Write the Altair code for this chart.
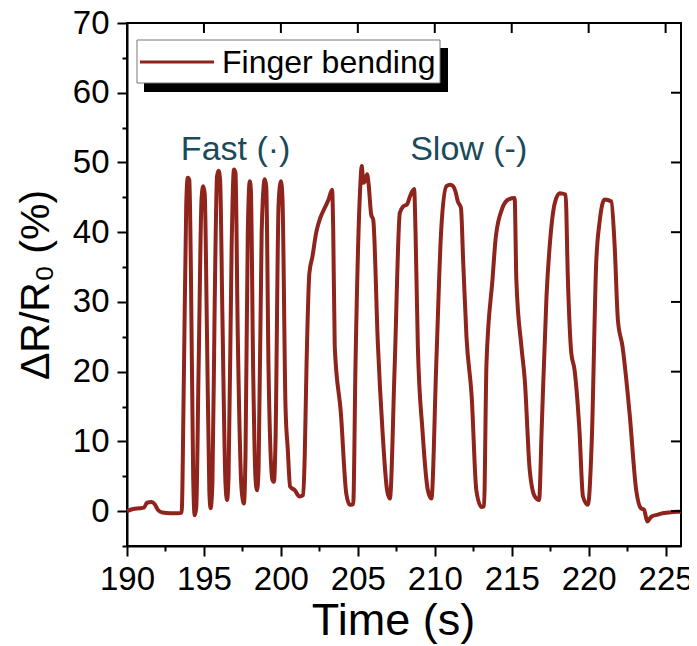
import altair as alt
import pandas as pd

# ---- data ----
time_s = [190.0, 190.4, 190.8, 191.1, 191.3, 191.6, 191.8, 192.0, 192.3, 192.8, 193.3, 193.55,
          193.7, 193.85, 193.95, 194.05, 194.15, 194.3, 194.4,
          194.5, 194.65, 194.85, 194.95, 195.05, 195.2, 195.35, 195.43,
          195.55, 195.7, 195.85, 195.95, 196.05, 196.2, 196.4, 196.5,
          196.6, 196.8, 196.95, 197.05, 197.2, 197.45, 197.6,
          197.7, 197.85, 197.98, 198.05, 198.2, 198.35, 198.45,
          198.55, 198.75, 198.95, 199.05, 199.2, 199.45, 199.55,
          199.65, 199.85, 200.0, 200.1, 200.3, 200.45, 200.6, 200.9, 201.2, 201.45,
          201.55, 201.67, 201.85, 202.05, 202.3, 202.55, 202.85, 203.1, 203.33,
          203.4, 203.5, 203.9, 204.25, 204.48, 204.7,
          204.85, 205.13, 205.26, 205.35, 205.5, 205.6, 205.7, 205.87, 206.0,
          206.3, 206.6, 206.9, 207.08,
          207.4, 207.73, 207.95, 208.2, 208.4, 208.66,
          208.75, 208.9, 209.2, 209.55, 209.78,
          210.1, 210.42, 210.76, 211.0, 211.19, 211.35, 211.5, 211.7,
          211.85, 212.06, 212.4, 212.7, 213.03, 213.2,
          213.36, 213.75, 213.97, 214.4, 214.8, 215.19,
          215.3, 215.63, 215.85, 216.17, 216.5, 216.78,
          216.95, 217.26, 217.5, 217.8, 218.12, 218.5,
          218.65, 218.87, 219.08, 219.4, 219.63, 219.95,
          220.2, 220.49, 220.7, 221.04, 221.47,
          221.69, 221.9, 222.2, 222.66, 223.09, 223.4, 223.6, 223.81,
          224.07, 224.5, 224.8, 225.2, 225.7, 226.0]
delta_r = [0.0, 0.3, 0.4, 0.5, 1.2, 1.3, 1.0, 0.2, -0.2, -0.3, -0.3, -0.2,
           20.0, 44.0, 47.8, 47.5, 35.0, 5.0, -0.6,
           0.5, 20.0, 45.0, 46.6, 45.5, 25.0, 3.0, 0.4,
           4.0, 30.0, 48.0, 48.8, 47.5, 28.0, 4.0, 1.6,
           5.0, 38.0, 49.0, 48.5, 25.0, 3.0, 1.1,
           8.0, 40.0, 47.3, 46.0, 20.0, 4.7, 3.0,
           6.0, 40.0, 47.6, 46.5, 20.0, 4.5, 4.2,
           10.0, 44.0, 47.3, 45.0, 15.0, 8.8, 3.5, 3.0, 2.1, 2.3,
           8.0, 21.3, 34.1, 36.5, 40.0, 42.0, 43.5, 44.7, 46.1,
           40.4, 23.6, 14.0, 2.5, 0.9, 1.0,
           21.2, 45.2, 49.5, 47.1, 47.5, 48.3, 46.9, 42.5, 41.8,
           24.1, 11.6, 3.0, 1.8,
           21.2, 42.8, 43.7, 44.0, 45.2, 46.2,
           40.0, 23.6, 11.6, 3.0, 1.8,
           21.3, 40.4, 46.6, 46.8, 46.6, 45.8, 44.4, 43.5,
           35.6, 25.0, 16.4, 3.0, 0.6, 0.7,
           21.2, 33.2, 39.4, 43.5, 44.7, 44.9,
           33.2, 23.6, 18.8, 5.9, 2.1, 1.6,
           12.0, 30.8, 38.9, 44.2, 45.6, 45.4,
           33.2, 22.7, 20.3, 11.6, 2.1, 0.9,
           10.0, 35.6, 41.3, 44.7, 44.4,
           38.0, 27.4, 23.6, 14.0, 3.0, 0.4, 0.2, -1.5,
           -0.8, -0.5, -0.3, -0.2, -0.1, -0.1]
series_name = "Finger bending"

note_text = ["Fast (·)", "Slow (-)"]
note_t = [193.5, 208.4]
note_v = [50.4, 50.4]

x_major = [190, 195, 200, 205, 210, 215, 220, 225]
x_all = [190 + 2.5 * i for i in range(15)]
y_major = [0, 10, 20, 30, 40, 50, 60, 70]
y_all = [-5 + 5 * i for i in range(16)]

LINE_COLOR = "#8E241B"
NOTE_COLOR = "#1A4B5A"
FONT = "Liberation Sans"

df = pd.DataFrame({"t": time_s, "v": delta_r})
notes = pd.DataFrame({"t": note_t, "v": note_v, "label": note_text})
top_ticks = pd.DataFrame({"t": x_major})
right_ticks = pd.DataFrame({"v": y_major})
one = pd.DataFrame({"k": [0]})
legend_df = pd.DataFrame({"label": [series_name]})

xscale = alt.Scale(domain=[190, 226], nice=False, zero=False)
yscale = alt.Scale(domain=[-5, 70], nice=False, zero=False)

main = alt.Chart(df).mark_line(strokeWidth=4, color=LINE_COLOR, interpolate="monotone").encode(
    x=alt.X("t:Q", scale=xscale, title="Time (s)",
            axis=alt.Axis(values=x_all, orient="bottom",
                          labelExpr="datum.value % 5 === 0 ? datum.label : ''",
                          tickSize={"condition": {"test": "datum.value % 5 === 0", "value": 10}, "value": 5},
                          labelFontSize=33, titleFontSize=45, labelFont=FONT, titleFont=FONT,
                          titleFontWeight="normal", labelPadding=7, titlePadding=2, titleX=266,
                          domainColor="black", domainWidth=2, tickColor="black", tickWidth=2,
                          labelColor="black", titleColor="black", grid=False,
                          labelFlush=False, labelOverlap=False)),
    y=alt.Y("v:Q", scale=yscale, title="ΔR/R₀ (%)",
            axis=alt.Axis(values=y_all, orient="left",
                          labelExpr="datum.value % 10 === 0 ? datum.label : ''",
                          tickSize={"condition": {"test": "datum.value % 10 === 0", "value": 10}, "value": 5},
                          labelFontSize=33, titleFontSize=41, labelFont=FONT, titleFont=FONT,
                          titleFontWeight="normal", labelPadding=8, titlePadding=15,
                          domainColor="black", domainWidth=2, tickColor="black", tickWidth=2,
                          labelColor="black", titleColor="black", grid=False,
                          labelFlush=False, labelOverlap=False)),
)

top = alt.Chart(top_ticks).mark_rule(color="black", strokeWidth=2).encode(
    x=alt.X("t:Q", scale=xscale, axis=None), y=alt.value(0), y2=alt.value(10)
)
right = alt.Chart(right_ticks).mark_rule(color="black", strokeWidth=2).encode(
    y=alt.Y("v:Q", scale=yscale, axis=None), x=alt.value(544), x2=alt.value(554)
)

text = alt.Chart(notes).mark_text(align="left", baseline="alphabetic", fontSize=34,
                                   font=FONT, color=NOTE_COLOR).encode(
    x=alt.X("t:Q", scale=xscale, axis=None), y=alt.Y("v:Q", scale=yscale, axis=None),
    text="label:N"
)

# legend box (drawn by hand to reproduce the drop shadow)
leg_shadow = alt.Chart(one).mark_rect(color="black", x=17, x2=321, y=25, y2=69).encode(
    opacity=alt.value(1)
)
leg_box = alt.Chart(one).mark_rect(fill="white", stroke="#777777", strokeWidth=1,
                                   x=10, x2=313, y=17, y2=60).encode(opacity=alt.value(1))
leg_line = alt.Chart(one).mark_rule(color=LINE_COLOR, strokeWidth=3).encode(
    x=alt.value(13), x2=alt.value(87), y=alt.value(39)
)
leg_text = alt.Chart(legend_df).mark_text(align="left", baseline="alphabetic", fontSize=32,
                                          font=FONT, color="black").encode(
    x=alt.value(95), y=alt.value(50), text="label:N"
)

chart = alt.layer(main, top, right, text, leg_shadow, leg_box, leg_line, leg_text).resolve_axis(
    x="independent", y="independent"
).properties(
    width=554, height=523,
    autosize=alt.AutoSizeParams(type="none"),
    padding={"left": 119, "top": 15, "right": 8, "bottom": 100},
).configure_view(stroke="black", strokeWidth=2)

chart.save("out.html", embed_options={"renderer": "svg", "actions": False})
